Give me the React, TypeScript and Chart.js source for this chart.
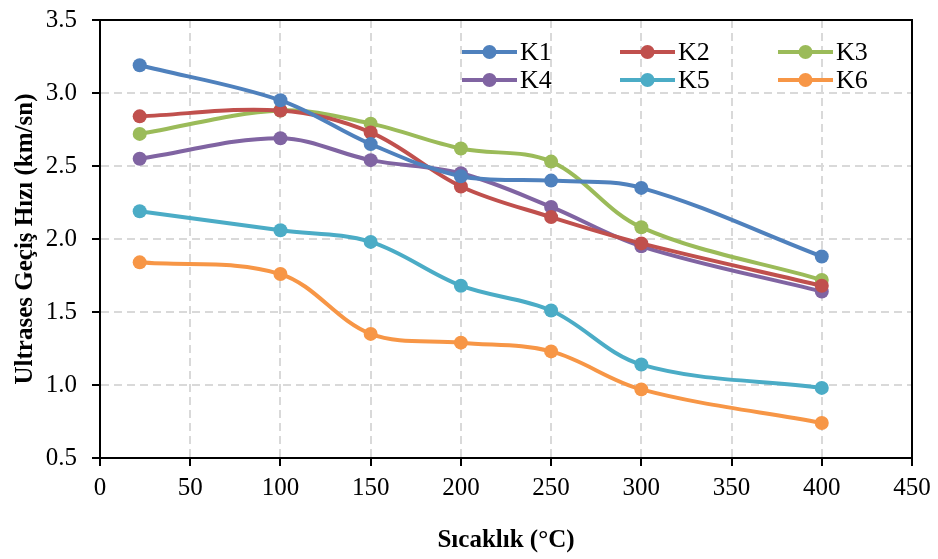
import React, { useEffect, useRef } from "react";
import { Chart, registerables } from "chart.js";

Chart.register(...registerables);

const temperatures = [22, 100, 150, 200, 250, 300, 400];
const seriesNames = ["K1", "K2", "K3", "K4", "K5", "K6"];
const k1 = [3.19, 2.95, 2.65, 2.43, 2.40, 2.35, 1.88];
const k2 = [2.84, 2.88, 2.73, 2.36, 2.15, 1.97, 1.68];
const k3 = [2.72, 2.88, 2.79, 2.62, 2.53, 2.08, 1.72];
const k4 = [2.55, 2.69, 2.54, 2.45, 2.22, 1.95, 1.64];
const k5 = [2.19, 2.06, 1.98, 1.68, 1.51, 1.14, 0.98];
const k6 = [1.84, 1.76, 1.35, 1.29, 1.23, 0.97, 0.74];
const seriesValues = [k1, k2, k3, k4, k5, k6];
const seriesColors = ["#4f81bd", "#c0504d", "#9bbb59", "#8064a2", "#4bacc6", "#f79646"];
const xTitle = "Sıcaklık (°C)";
const yTitle = "Ultrases Geçiş Hızı (km/sn)";

const FONT = "'Liberation Serif', 'Times New Roman', serif";

const framePlugin = {
  id: "frame",
  beforeDatasetsDraw(chart: any) {
    const { ctx, chartArea: a } = chart;
    ctx.save();
    ctx.strokeStyle = "#000";
    ctx.lineWidth = 2;
    ctx.strokeRect(a.left, a.top, a.right - a.left, a.bottom - a.top);
    ctx.restore();
  },
};

const legendPlugin = {
  id: "customLegend",
  afterDraw(chart: any) {
    const { ctx } = chart;
    const colX = [462, 620, 778];
    const rowY = [52, 80];
    const lineLen = 55;
    ctx.save();
    ctx.font = `26px ${FONT}`;
    ctx.textBaseline = "middle";
    ctx.textAlign = "left";
    chart.data.datasets.forEach((ds: any, i: number) => {
      const x = colX[i % 3];
      const y = rowY[Math.floor(i / 3)];
      ctx.strokeStyle = ds.borderColor;
      ctx.lineWidth = 4;
      ctx.beginPath();
      ctx.moveTo(x, y);
      ctx.lineTo(x + lineLen, y);
      ctx.stroke();
      ctx.fillStyle = ds.backgroundColor;
      ctx.beginPath();
      ctx.arc(x + lineLen / 2, y, 7, 0, Math.PI * 2);
      ctx.fill();
      ctx.fillStyle = "#000";
      ctx.fillText(ds.label, x + lineLen + 3, y + 1);
    });
    ctx.restore();
  },
};

export default function App() {
  const ref = useRef<HTMLCanvasElement | null>(null);
  useEffect(() => {
    if (!ref.current) return;
    const chart = new Chart(ref.current, {
      type: "line",
      data: {
        datasets: seriesNames.map((name, i) => ({
          label: name,
          data: temperatures.map((t, j) => ({ x: t, y: seriesValues[i][j] })),
          borderColor: seriesColors[i],
          backgroundColor: seriesColors[i],
          pointBackgroundColor: seriesColors[i],
          pointBorderColor: seriesColors[i],
          borderWidth: 4,
          pointRadius: 7,
          pointBorderWidth: 0,
          tension: 0.35,
          fill: false,
        })),
      },
      options: {
        responsive: false,
        animation: false,
        layout: { padding: { left: 0, top: 20, right: 26, bottom: 0 } },
        plugins: {
          legend: { display: false },
          tooltip: { enabled: false },
        },
        scales: {
          x: {
            type: "linear",
            min: 0,
            max: 450,
            afterFit: (s: any) => {
              s.height = 101;
              s.paddingLeft = 0;
              s.paddingRight = 0;
            },
            ticks: {
              stepSize: 50,
              color: "#000",
              padding: 7,
              font: { family: FONT, size: 25 },
            },
            grid: {
              color: "#d9d9d9",
              lineWidth: 2,
              tickColor: "#000",
              tickLength: 8,
              tickWidth: 2,
            },
            border: { color: "#000", width: 2, dash: [8, 5] },
            title: {
              display: true,
              text: xTitle,
              color: "#000",
              font: { family: FONT, size: 25, weight: "bold" },
              padding: { top: 0, bottom: 3 },
            },
          },
          y: {
            type: "linear",
            min: 0.5,
            max: 3.5,
            afterFit: (s: any) => {
              s.width = 100;
              s.paddingTop = 0;
              s.paddingBottom = 0;
            },
            ticks: {
              stepSize: 0.5,
              color: "#000",
              padding: 15,
              font: { family: FONT, size: 25 },
              callback: (v: any) => Number(v).toFixed(1),
            },
            grid: {
              color: "#d9d9d9",
              lineWidth: 2,
              tickColor: "#000",
              tickLength: 8,
              tickWidth: 2,
            },
            border: { color: "#000", width: 2, dash: [8, 5] },
            title: {
              display: true,
              text: yTitle,
              color: "#000",
              font: { family: FONT, size: 25, weight: "bold" },
              padding: { top: 11, bottom: 0 },
            },
          },
        },
      },
      plugins: [framePlugin, legendPlugin],
    });
    return () => chart.destroy();
  }, []);
  return (
    <div style={{ position: "fixed", left: 0, top: 0, width: 938, height: 559, background: "#fff" }}>
      <canvas ref={ref} width={938} height={559} style={{ display: "block" }} />
    </div>
  );
}
